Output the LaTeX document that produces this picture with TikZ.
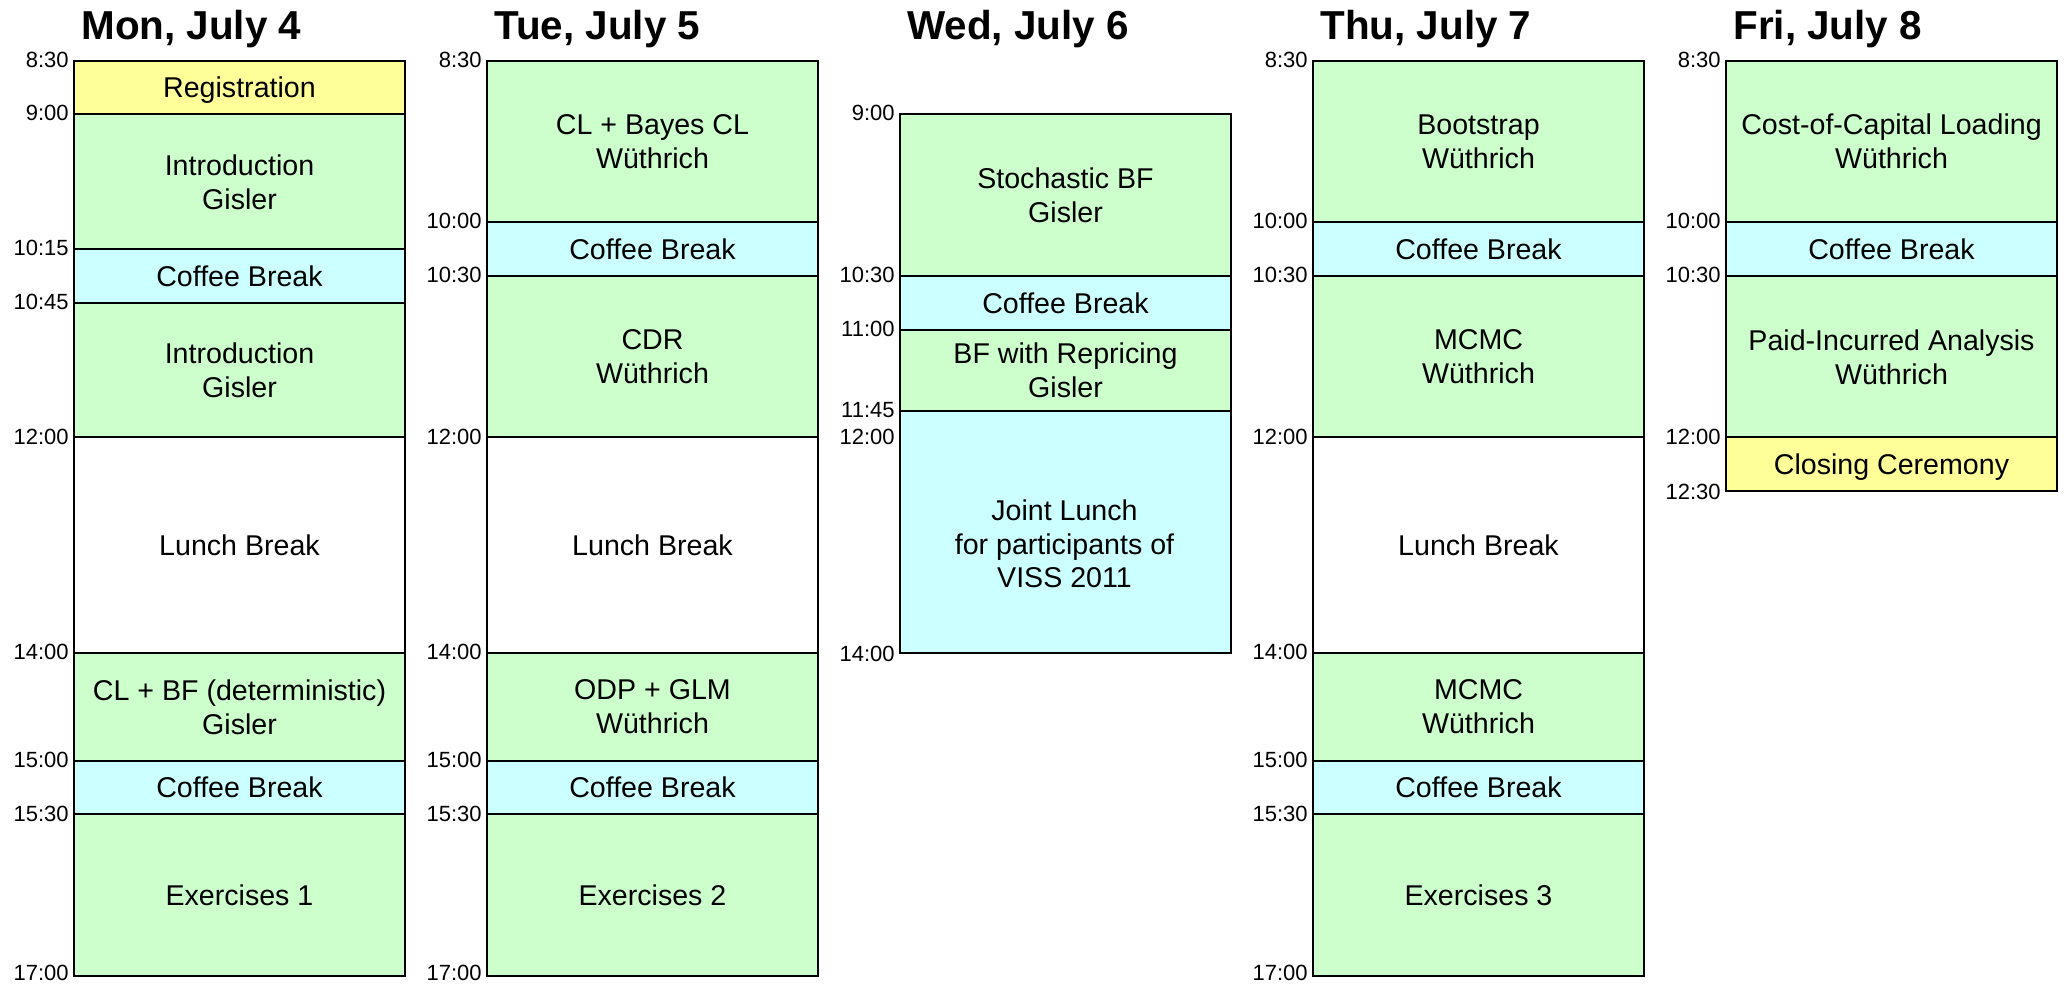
\documentclass[tikz,border=0pt]{standalone}
\usepackage{fontspec}
\setmainfont{Liberation Sans}
\usepackage{tikz}
\usetikzlibrary{positioning}
\definecolor{talkgreen}{HTML}{CCFFCC}
\definecolor{breakcyan}{HTML}{CCFFFF}
\definecolor{eventyellow}{HTML}{FFFF99}

\begin{document}
\begin{tikzpicture}[x=0.5pt, y=-53.85pt,
        slotbox/.style={rectangle, draw, line width=1pt, anchor=north west, inner sep=0pt, minimum width=165.5pt, align=center, text depth=0pt, font=\fontsize{14.3}{17}\selectfont},
        talkbox/.style={slotbox, fill=talkgreen},
        breakbox/.style={slotbox, fill=breakcyan},
        eventbox/.style={slotbox, fill=eventyellow},
        lunchbox/.style={slotbox, fill=white},
        dur/.style={minimum height=#1*53.85pt},
        timelbl/.style={anchor=east, xshift=-2pt, inner sep=0pt, font=\fontsize{11}{11}\selectfont},
        dayhead/.style={anchor=base west, inner sep=0pt, font=\bfseries\fontsize{20.2}{22}\selectfont}]
      \useasboundingbox (0,7.9475) rectangle (2067,17.0748);

      % Monday
      \node[dayhead] (monhead) at (81,8.31) {Mon, July 4};
      \node[eventbox, dur=0.5] (mon1) at (73,8.5) {Registration};
      \node[talkbox, dur=1.25] (mon2) at (73,9) {Introduction\\Gisler};
      \node[breakbox, dur=0.5] (mon3) at (73,10.25) {Coffee Break};
      \node[talkbox, dur=1.25] (mon4) at (73,10.75) {Introduction\\Gisler};
      \node[lunchbox, dur=2] (mon5) at (73,12) {Lunch Break};
      \node[talkbox, dur=1] (mon6) at (73,14) {CL + BF (deterministic)\\Gisler};
      \node[breakbox, dur=0.5] (mon7) at (73,15) {Coffee Break};
      \node[talkbox, dur=1.5] (mon8) at (73,15.5) {Exercises 1};
      \node[timelbl] at (mon1.north west) {8:30};
      \node[timelbl] at (mon2.north west) {9:00};
      \node[timelbl] at (mon3.north west) {10:15};
      \node[timelbl] at (mon4.north west) {10:45};
      \node[timelbl] at (mon5.north west) {12:00};
      \node[timelbl] at (mon6.north west) {14:00};
      \node[timelbl] at (mon7.north west) {15:00};
      \node[timelbl] at (mon8.north west) {15:30};
      \node[timelbl, yshift=2pt] at (mon8.south west) {17:00};

      % Tuesday
      \node[dayhead] (tuehead) at (494,8.31) {Tue, July 5};
      \node[talkbox, dur=1.5] (tue1) at (486,8.5) {CL + Bayes CL\\Wüthrich};
      \node[breakbox, dur=0.5] (tue2) at (486,10) {Coffee Break};
      \node[talkbox, dur=1.5] (tue3) at (486,10.5) {CDR\\Wüthrich};
      \node[lunchbox, dur=2] (tue4) at (486,12) {Lunch Break};
      \node[talkbox, dur=1] (tue5) at (486,14) {ODP + GLM\\Wüthrich};
      \node[breakbox, dur=0.5] (tue6) at (486,15) {Coffee Break};
      \node[talkbox, dur=1.5] (tue7) at (486,15.5) {Exercises 2};
      \node[timelbl] at (tue1.north west) {8:30};
      \node[timelbl] at (tue2.north west) {10:00};
      \node[timelbl] at (tue3.north west) {10:30};
      \node[timelbl] at (tue4.north west) {12:00};
      \node[timelbl] at (tue5.north west) {14:00};
      \node[timelbl] at (tue6.north west) {15:00};
      \node[timelbl] at (tue7.north west) {15:30};
      \node[timelbl, yshift=2pt] at (tue7.south west) {17:00};

      % Wednesday
      \node[dayhead] (wedhead) at (907,8.31) {Wed, July 6};
      \node[talkbox, dur=1.5] (wed1) at (899,9) {Stochastic BF\\Gisler};
      \node[breakbox, dur=0.5] (wed2) at (899,10.5) {Coffee Break};
      \node[talkbox, dur=0.75] (wed3) at (899,11) {BF with Repricing\\Gisler};
      \node[breakbox, dur=2.25] (wed4) at (899,11.75) {};
      \node[align=center, font=\fontsize{14.3}{16.8}\selectfont] (wedlunch) at (1064.5,13) {Joint Lunch\\for participants of\\VISS 2011};
      \node[timelbl] at (wed1.north west) {9:00};
      \node[timelbl] at (wed2.north west) {10:30};
      \node[timelbl] at (wed3.north west) {11:00};
      \node[timelbl] at (wed4.north west) {11:45};
      \node[timelbl] at (899,12) {12:00};
      \node[timelbl] at (wed4.south west) {14:00};

      % Thursday
      \node[dayhead] (thuhead) at (1320,8.31) {Thu, July 7};
      \node[talkbox, dur=1.5] (thu1) at (1312,8.5) {Bootstrap\\Wüthrich};
      \node[breakbox, dur=0.5] (thu2) at (1312,10) {Coffee Break};
      \node[talkbox, dur=1.5] (thu3) at (1312,10.5) {MCMC\\Wüthrich};
      \node[lunchbox, dur=2] (thu4) at (1312,12) {Lunch Break};
      \node[talkbox, dur=1] (thu5) at (1312,14) {MCMC\\Wüthrich};
      \node[breakbox, dur=0.5] (thu6) at (1312,15) {Coffee Break};
      \node[talkbox, dur=1.5] (thu7) at (1312,15.5) {Exercises 3};
      \node[timelbl] at (thu1.north west) {8:30};
      \node[timelbl] at (thu2.north west) {10:00};
      \node[timelbl] at (thu3.north west) {10:30};
      \node[timelbl] at (thu4.north west) {12:00};
      \node[timelbl] at (thu5.north west) {14:00};
      \node[timelbl] at (thu6.north west) {15:00};
      \node[timelbl] at (thu7.north west) {15:30};
      \node[timelbl, yshift=2pt] at (thu7.south west) {17:00};

      % Friday
      \node[dayhead] (frihead) at (1733,8.31) {Fri, July 8};
      \node[talkbox, dur=1.5] (fri1) at (1725,8.5) {Cost-of-Capital Loading\\Wüthrich};
      \node[breakbox, dur=0.5] (fri2) at (1725,10) {Coffee Break};
      \node[talkbox, dur=1.5] (fri3) at (1725,10.5) {Paid-Incurred Analysis\\Wüthrich};
      \node[eventbox, dur=0.5] (fri4) at (1725,12) {Closing Ceremony};
      \node[timelbl] at (fri1.north west) {8:30};
      \node[timelbl] at (fri2.north west) {10:00};
      \node[timelbl] at (fri3.north west) {10:30};
      \node[timelbl] at (fri4.north west) {12:00};
      \node[timelbl] at (fri4.south west) {12:30};
    \end{tikzpicture}
\end{document}
